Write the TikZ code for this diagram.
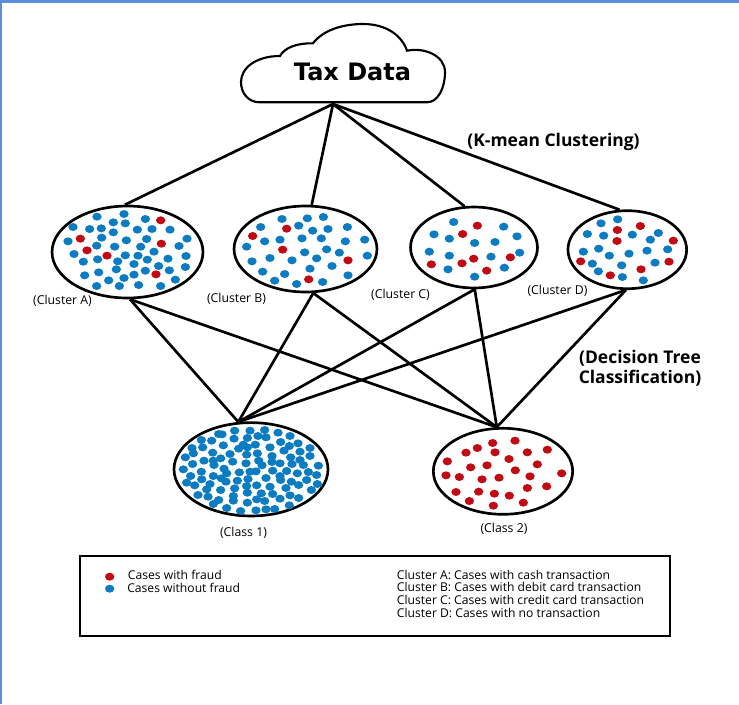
\documentclass[tikz,border=0pt]{standalone}
\usepackage{fontspec}
\setmainfont{Open Sans}
\newfontfamily\titlefont{DejaVu Sans}
\usetikzlibrary{shapes.geometric}
\definecolor{fraudred}{HTML}{C00A14}
\definecolor{cleanblue}{HTML}{0B7CC2}
\definecolor{pageblue}{HTML}{5B8FD9}
\tikzset{x=0.75pt,y=-0.75pt,
        group/.style={ % Sets the properties for each circle of cases
            draw,
            ellipse,
            line width=2pt,
            inner sep=0pt},
        every edge/.style={ % Sets the properties for each link
            draw,
            line width=2pt},
        tag/.style={ % Small labels below the circles
            font=\fontsize{9.2}{11}\selectfont},
        step label/.style={ % Bold labels beside the links
            font=\fontsize{13.1}{15}\selectfont\bfseries,
            align=center},
        key text/.style={ % Text of the legend
            font=\fontsize{9.1}{11}\selectfont,
            text height=7pt,
            text depth=2pt,
            inner sep=0pt,
            anchor=west},
        red case/.style={fraudred},
        blue case/.style={cleanblue}
        }
\newcommand{\scatter}[2]{\foreach \x/\y in {#2} \fill[#1] (\x,\y) ellipse (3.5pt and 3pt);}

\begin{document}
\begin{tikzpicture}
    \useasboundingbox (0,0) rectangle (739,704);
    \fill[pageblue] (0,0) rectangle (739,2.7);
    \fill[pageblue] (0,0) rectangle (2,704);

    % cloud
    \draw[line width=1.6pt] (260,102.3)
        .. controls (248,102.3) and (241,93) .. (241,82)
        .. controls (241,68) and (256,56) .. (280,56)
        .. controls (285,47) and (298,43) .. (313,43.3)
        .. controls (323,30) and (343,24) .. (363,24)
        .. controls (387,24) and (402,36) .. (407,50.7)
        .. controls (425,47) and (445,56) .. (445,72)
        .. controls (445,88) and (438,102.3) .. (427,102.3)
        -- cycle;
    \node[font=\titlefont\fontsize{18}{20}\selectfont\bfseries] (tax) at (352.5,72) {Tax Data};
    \coordinate (root) at (333,104);

    % clusters
    \node[group,minimum width=113.2pt,minimum height=69pt] (a) at (127.5,252) {};
    \node[group,minimum width=107.2pt,minimum height=64.5pt] (b) at (305.5,249) {};
    \node[group,minimum width=95.2pt,minimum height=60.7pt] (c) at (474,247.5) {};
    \node[group,minimum width=89pt,minimum height=58.5pt] (d) at (627.3,249.7) {};

    % classes
    \node[group,minimum width=115.5pt,minimum height=70pt] (p) at (251,469.3) {};
    \node[group,minimum width=104.5pt,minimum height=64.5pt] (q) at (503,471.3) {};

    \draw
        (root)
            edge (a.93)
            edge (b.82)
            edge (c.103)
            edge (d.101)
        (a.273)
            edge (p.105)
            edge (q.98)
        (b.280)
            edge (p.105)
            edge (q.98)
        (c.271)
            edge (p.105)
            edge (q.98)
        (d.268)
            edge (p.105)
            edge (q.98);

    \begin{scope}[shift={(0,190)},x=0.25pt,y=-0.25pt]
        \scatter{blue case}{291/80,372/72,436/87,340/97,376/100,219/111,269/117,304/115,412/119,456/117,510/119,340/127,305/143,379/151,440/147,561/146,204/154,290/167,344/170,422/170,537/168,462/185,222/192,376/196,414/197,558/198,250/215,293/208,353/214,442/209,504/206,402/222,476/228,556/231,349/238,296/247,436/242,508/241,254/256,402/254,372/264,326/271,526/269,290/288,358/288,416/285,482/288}
        \scatter{red case}{482/91,241/146,484/161,261/181,321/197,468/253}
        \scatter{blue case}{846/87,922/85,970/81,782/111,896/107,1042/111,938/122,984/117,794/154,840/149,906/145,964/145,1036/154,1094/149,740/170,980/178,914/187,1018/188,1102/197,810/204,950/205,756/214,876/211,996/228,930/236,788/245,854/252,1044/256,824/272,890/282,968/276}
        \scatter{red case}{860/116,758/138,848/179,1044/211,926/268}
    \end{scope}
    \begin{scope}[shift={(370,190)},x=0.25pt,y=-0.25pt]
        \scatter{blue case}{251/96,401/110,192/133,238/146,441/139,314/159,375/156,178/185,238/197,449/188,363/200,234/238,403/233,314/260}
        \scatter{red case}{322/107,278/132,184/223,276/220,311/206,421/202,350/242}
        \scatter{blue case}{743/88,693/100,652/132,701/137,787/134,865/129,841/149,640/185,686/176,718/197,777/191,831/182,893/178,667/221,755/226,855/218,685/244,757/261,820/271}
        \scatter{red case}{811/108,742/120,741/153,910/152,632/214,897/215,813/238,721/256}
    \end{scope}
    \begin{scope}[shift={(160,410)},x=0.25pt,y=-0.25pt]
        \scatter{blue case}{224/62,270/62,314/60,354/68,390/78,176/72,186/73,124/90,155/92,222/86,262/84,294/78,318/82,362/96,414/100,190/106,96/114,128/112,250/104,286/104,330/112,388/108,372/122,450/114,158/128,100/130,236/116,262/112,210/132,260/134,292/130,420/125,76/142,132/152,182/145,160/152,218/155,258/160,296/152,336/138,392/142,450/138,98/162,162/165,306/166,336/156,360/160,396/162,420/150,430/165,475/167,70/178,124/185,192/176,200/190,238/187,270/185,288/184,338/182,380/183,412/190,445/186,92/198,160/198,184/205,198/215,318/204,360/198,470/195,125/208,232/212,264/207,362/210,394/215,440/210,80/218,104/226,150/222,260/228,290/226,330/230,416/225,472/222,140/238,182/240,224/235,262/248,378/234,454/240,304/250,338/252,114/255,144/260,220/258,390/256,416/264,176/270,160/282,220/272,262/278,290/268,314/273,360/266,200/294,388/286,242/303,288/301,318/298,344/297}
        \scatter{red case}{1065/92,998/99,952/114,918/128,1005/127,1102/127,1162/119,862/154,1047/147,1132/163,932/172,981/166,1066/181,858/196,898/201,966/208,1017/203,1110/199,1205/190,1102/234,1160/229,888/246,956/245,1003/251,1048/257,928/273,1000/287,1090/278}
    \end{scope}

    % labels
    \node[tag] (la) at (62.5,300.5) {(Cluster A)};
    \node[tag] (lb) at (236.5,298.5) {(Cluster B)};
    \node[tag] (lc) at (400.5,294.5) {(Cluster C)};
    \node[tag] (ld) at (557.5,290.5) {(Cluster D)};
    \node[tag] (lp) at (243.5,533) {(Class 1)};
    \node[tag] (lq) at (504,529) {(Class 2)};
    \node[step label] (kmean) at (553.5,141.5) {(K-mean Clustering)};
    \node[step label] (tree) at (640,368) {(Decision Tree\\Classification)};

    % legend
    \node[draw,line width=1.5pt,inner sep=0pt,minimum width=442.5pt,minimum height=59.7pt] (legend) at (374.5,596) {};
    \scatter{red case}{109.7/576.7}
    \scatter{blue case}{109.7/588.7}
    \node[key text] (kred) at (127.7,576) {Cases with fraud};
    \node[key text] (kblue) at (127,589) {Cases without fraud};
    \node[key text] (ka) at (396.7,575.7) {Cluster A: Cases with cash transaction};
    \node[key text] (kb) at (396.7,588.5) {Cluster B: Cases with debit card transaction};
    \node[key text] (kc) at (396.7,601.5) {Cluster C: Cases with credit card transaction};
    \node[key text] (kd) at (396.7,614.3) {Cluster D: Cases with no transaction};
\end{tikzpicture}
\end{document}
